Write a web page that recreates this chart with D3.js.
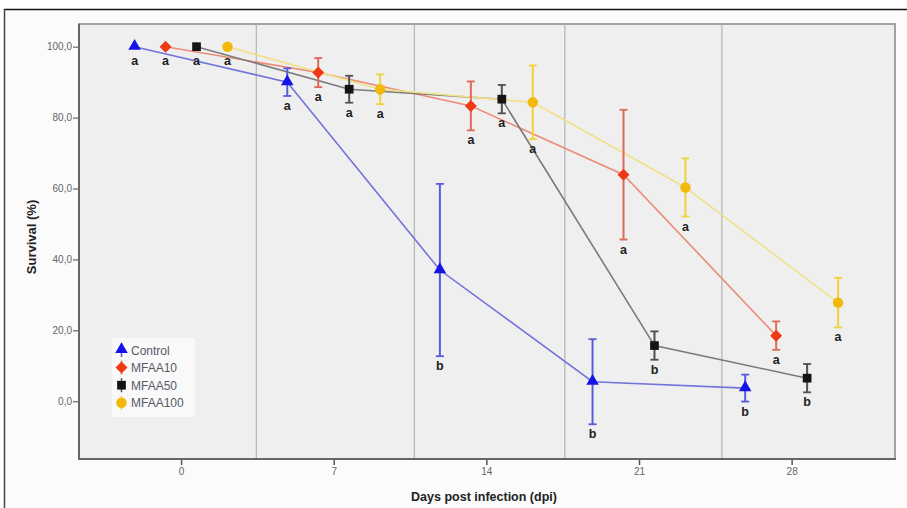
<!DOCTYPE html>
<html>
<head>
<meta charset="utf-8">
<script src="https://cdn.jsdelivr.net/npm/d3@7"></script>
<style>
  html, body { margin: 0; padding: 0; background: #ffffff; }
  svg { display: block; font-family: "Liberation Sans", Arial, sans-serif; }
</style>
</head>
<body>
<svg id="chart" width="907" height="508"></svg>
<script>
// Survival over days post infection, one series per treatment group
const days = [0, 7, 14, 21, 28];
const seriesNames = ["Control", "MFAA10", "MFAA50", "MFAA100"];

const controlMean = [100, 90, 37, 5.5, 3.7];
const controlErr  = [0, 3.9, 24.3, 12, 3.8];
const controlSig  = ["a", "a", "b", "b", "b"];

const mfaa10Mean = [100, 92.7, 83.3, 63.9, 18.5];
const mfaa10Err  = [0, 4.1, 6.9, 18.3, 4];
const mfaa10Sig  = ["a", "a", "a", "a", "a"];

const mfaa50Mean = [100, 88, 85.2, 15.7, 6.5];
const mfaa50Err  = [0, 3.8, 4, 4, 4];
const mfaa50Sig  = ["a", "a", "a", "b", "b"];

const mfaa100Mean = [100, 88, 84.3, 60.3, 27.8];
const mfaa100Err  = [0, 4.2, 10.4, 8.2, 7];
const mfaa100Sig  = ["a", "a", "a", "a", "a"];

const yTicks = [0, 20, 40, 60, 80, 100];
const xTicks = [0, 7, 14, 21, 28];
const dividerDays = [3.45, 10.7, 17.6, 24.8];

// styling per group
const styles = {
  Control: { marker: "#1414e6", line: "#7373dc", bar: "#5a5ae0", shape: "triangle" },
  MFAA10:  { marker: "#ee3a14", line: "#ee8a78", bar: "#e06a5a", shape: "diamond" },
  MFAA50:  { marker: "#141414", line: "#7a7a7a", bar: "#505050", shape: "square" },
  MFAA100: { marker: "#f2b90c", line: "#f0e088", bar: "#f0d23a", shape: "circle" }
};

const groups = [
  { name: "Control", mean: controlMean, err: controlErr, sig: controlSig },
  { name: "MFAA10",  mean: mfaa10Mean,  err: mfaa10Err,  sig: mfaa10Sig },
  { name: "MFAA50",  mean: mfaa50Mean,  err: mfaa50Err,  sig: mfaa50Sig },
  { name: "MFAA100", mean: mfaa100Mean, err: mfaa100Err, sig: mfaa100Sig }
];

const svg = d3.select("#chart");
const plot = { left: 79, right: 895, top: 24, bottom: 459 };

const x = d3.scaleLinear().domain([-4.68, 32.74]).range([plot.left, plot.right]);
const y = d3.scaleLinear().domain([-16.3, 106.4]).range([plot.bottom, plot.top]);
// cluster offset (in days) of each group around its day
const cluster = d3.scalePoint().domain(seriesNames).range([-2.13, 2.13]);

// figure background and outer frame
svg.append("rect").attr("x", 5).attr("y", 10).attr("width", 902).attr("height", 498).attr("fill", "#fbfbfb");
svg.append("line").attr("x1", 4).attr("x2", 907).attr("y1", 9.5).attr("y2", 9.5)
  .attr("stroke", "#111").attr("stroke-width", 1.5);
svg.append("line").attr("x1", 4.5).attr("x2", 4.5).attr("y1", 9).attr("y2", 508)
  .attr("stroke", "#444").attr("stroke-width", 1.5);

// plot area
svg.append("rect")
  .attr("x", plot.left).attr("y", plot.top)
  .attr("width", plot.right - plot.left).attr("height", plot.bottom - plot.top)
  .attr("fill", "#efefef").attr("stroke", "#a2a2a2").attr("stroke-width", 2);

// vertical dividers
svg.append("g").selectAll("line").data(dividerDays).join("line")
  .attr("x1", d => x(d)).attr("x2", d => x(d))
  .attr("y1", plot.top).attr("y2", plot.bottom)
  .attr("stroke", "#b4b4b4").attr("stroke-width", 1.2);

// axes
const fmt = d => d3.format(".1f")(d).replace(".", ",");
const yAxis = svg.append("g").attr("transform", `translate(${plot.left},0)`)
  .call(d3.axisLeft(y).tickValues(yTicks).tickFormat(fmt).tickSize(6).tickSizeOuter(0));
yAxis.select(".domain").remove();
yAxis.selectAll(".tick line").attr("stroke", "#666").attr("stroke-width", 1.2);
yAxis.selectAll(".tick text").attr("fill", "#666").attr("font-size", 10).attr("x", -7);

const xAxis = svg.append("g").attr("transform", `translate(0,${plot.bottom})`)
  .call(d3.axisBottom(x).tickValues(xTicks).tickSize(6).tickSizeOuter(0));
xAxis.select(".domain").remove();
xAxis.selectAll(".tick line").attr("stroke", "#555").attr("stroke-width", 1.5);
xAxis.selectAll(".tick text").attr("fill", "#666").attr("font-size", 10).attr("y", 9);

// left and bottom axis lines
svg.append("line").attr("x1", plot.left).attr("x2", plot.left).attr("y1", plot.top).attr("y2", plot.bottom + 1)
  .attr("stroke", "#666").attr("stroke-width", 2);
svg.append("line").attr("x1", plot.left - 1).attr("x2", plot.right + 1).attr("y1", plot.bottom).attr("y2", plot.bottom)
  .attr("stroke", "#666").attr("stroke-width", 2);

// marker shapes
function symbolPath(shape) {
  if (shape === "triangle") return d3.symbol(d3.symbolTriangle, 68)();
  if (shape === "diamond") return d3.symbol(d3.symbolSquare, 72)();
  if (shape === "square") return d3.symbol(d3.symbolSquare, 76)();
  return d3.symbol(d3.symbolCircle, 86)();
}
function symbolTransform(shape, px, py) {
  if (shape === "diamond") return `translate(${px},${py}) rotate(45)`;
  if (shape === "triangle") return `translate(${px},${py - 0.5})`;
  return `translate(${px},${py})`;
}

const line = d3.line().x(d => x(d.day + cluster(d.name))).y(d => y(d.mean));

groups.forEach(g => {
  g.points = days.map((day, i) => ({ name: g.name, day, mean: g.mean[i], err: g.err[i], sig: g.sig[i] }));
});

// connecting lines
svg.append("g").selectAll("path").data(groups).join("path")
  .attr("d", g => line(g.points))
  .attr("fill", "none")
  .attr("stroke", g => styles[g.name].line)
  .attr("stroke-width", 1.6);

// error bars
groups.forEach(g => {
  const st = styles[g.name];
  const eg = svg.append("g");
  const pts = g.points.filter(p => p.err > 0);
  eg.selectAll("line.v").data(pts).join("line")
    .attr("x1", p => x(p.day + cluster(p.name))).attr("x2", p => x(p.day + cluster(p.name)))
    .attr("y1", p => y(p.mean + p.err)).attr("y2", p => y(p.mean - p.err))
    .attr("stroke", st.bar).attr("stroke-width", 2);
  ["top", "bottom"].forEach(end => {
    eg.selectAll("line." + end).data(pts).join("line")
      .attr("x1", p => x(p.day + cluster(p.name)) - 4).attr("x2", p => x(p.day + cluster(p.name)) + 4)
      .attr("y1", p => y(end === "top" ? p.mean + p.err : p.mean - p.err))
      .attr("y2", p => y(end === "top" ? p.mean + p.err : p.mean - p.err))
      .attr("stroke", st.bar).attr("stroke-width", 1.8);
  });
});

// markers
groups.forEach(g => {
  const st = styles[g.name];
  svg.append("g").selectAll("path").data(g.points).join("path")
    .attr("d", symbolPath(st.shape))
    .attr("transform", p => symbolTransform(st.shape, x(p.day + cluster(p.name)), y(p.mean)))
    .attr("fill", st.marker);
});

// significance letters
groups.forEach(g => {
  svg.append("g").selectAll("text").data(g.points).join("text")
    .attr("x", p => x(p.day + cluster(p.name)))
    .attr("y", p => Math.max(y(p.mean - p.err), y(p.mean) + 4) + 14)
    .attr("text-anchor", "middle")
    .attr("font-size", 12.5).attr("font-weight", "bold").attr("fill", "#1e1e1e")
    .text(p => p.sig);
});

// legend
const legend = svg.append("g");
legend.append("rect").attr("x", 112).attr("y", 338).attr("width", 83).attr("height", 79).attr("fill", "#f9f9f9");
const legendRows = legend.selectAll("g").data(seriesNames).join("g")
  .attr("transform", (d, i) => `translate(121.5,${350 + i * 17.6})`);
legendRows.append("line").attr("x1", 0).attr("x2", 0).attr("y1", -7).attr("y2", 7)
  .attr("stroke", d => styles[d].bar).attr("stroke-width", 1.5);
legendRows.append("path")
  .attr("d", d => symbolPath(styles[d].shape))
  .attr("transform", d => symbolTransform(styles[d].shape, 0, 0))
  .attr("fill", d => styles[d].marker);
legendRows.append("text").attr("x", 9.5).attr("y", 4.5)
  .attr("font-size", 12).attr("fill", "#565b68").text(d => d);

// axis titles
svg.append("text")
  .attr("transform", `translate(36,237) rotate(-90)`)
  .attr("text-anchor", "middle").attr("font-size", 13).attr("font-weight", "bold").attr("fill", "#222")
  .text("Survival (%)");
svg.append("text")
  .attr("x", (plot.left + plot.right) / 2 - 3).attr("y", 501)
  .attr("text-anchor", "middle").attr("font-size", 12.5).attr("font-weight", "bold").attr("fill", "#222")
  .text("Days post infection (dpi)");
</script>
</body>
</html>
